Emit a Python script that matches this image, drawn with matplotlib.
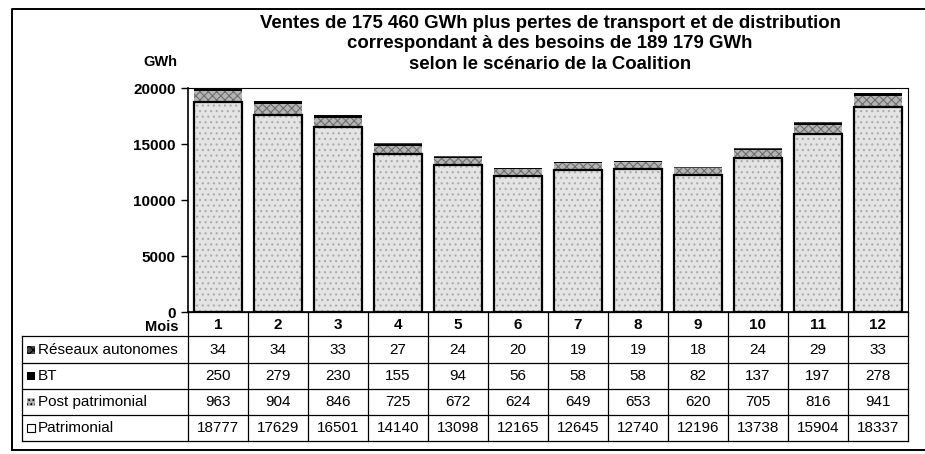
import numpy as np
import matplotlib
matplotlib.use('Agg')
import matplotlib.pyplot as plt
from matplotlib.patches import Rectangle

plt.rcParams['font.family'] = ['Liberation Sans', 'DejaVu Sans']
plt.rcParams['hatch.linewidth'] = 0.8

mois = ['1', '2', '3', '4', '5', '6', '7', '8', '9', '10', '11', '12']
patrimonial = [18777, 17629, 16501, 14140, 13098, 12165, 12645, 12740, 12196, 13738, 15904, 18337]
post_patrimonial = [963, 904, 846, 725, 672, 624, 649, 653, 620, 705, 816, 941]
bt = [250, 279, 230, 155, 94, 56, 58, 58, 82, 137, 197, 278]
reseaux = [34, 34, 33, 27, 24, 20, 19, 19, 18, 24, 29, 33]

titre = ("Ventes de 175 460 GWh plus pertes de transport et de distribution\n"
         "correspondant à des besoins de 189 179 GWh\n"
         "selon le scénario de la Coalition")

W, H = 925, 454
fig = plt.figure(figsize=(W / 100, H / 100), dpi=100)

# pixel layout
x0, x1 = 188, 908
y_top, y_bot = 88, 312

ax = fig.add_axes([x0 / W, 1 - y_bot / H, (x1 - x0) / W, (y_bot - y_top) / H])
x = np.arange(len(mois))
p = np.array(patrimonial)
pp = np.array(post_patrimonial)
b = np.array(bt)
r = np.array(reseaux)

# patrimonial: light stipple + black outline
ax.bar(x, p, width=0.8, color='#e4e4e4', edgecolor='#aaaaaa', linewidth=0, hatch='...', zorder=2)
ax.bar(x, p, width=0.8, color='none', edgecolor='black', linewidth=1.6, zorder=3)
ax.bar(x, pp, bottom=p, width=0.8, color='#b4b4b4', edgecolor='#6e6e6e', linewidth=0,
       hatch='xxxx', zorder=2)
ax.bar(x, b, bottom=p + pp, width=0.8, color='black', edgecolor='none', zorder=2)
ax.bar(x, r, bottom=p + pp + b, width=0.8, color='#444444', edgecolor='none', zorder=2)

ax.set_xlim(-0.5, len(mois) - 0.5)
ax.set_ylim(0, 20000)
ax.set_yticks([0, 5000, 10000, 15000, 20000])
ax.set_xticks([])
ax.tick_params(axis='y', labelsize=11, length=5, width=1, pad=4)
for lab in ax.get_yticklabels():
    lab.set_fontweight('bold')
for s in ['top', 'right']:
    ax.spines[s].set_linewidth(0.8)
    ax.spines[s].set_linestyle((0, (2, 1)))
ax.spines['left'].set_linewidth(1.2)
ax.spines['bottom'].set_linewidth(1.2)

# overlay axes in pixel coords for title, frame and table
ov = fig.add_axes([0, 0, 1, 1])
ov.set_xlim(0, W)
ov.set_ylim(H, 0)
ov.axis('off')
ov.patch.set_alpha(0)

# outer frame
ov.plot([12, 12, 925], [450, 9, 9], color='black', lw=1.4)
ov.plot([12, 925], [450, 450], color='black', lw=1.4)

ov.text(550, 44, titre, ha='center', va='center', fontsize=13.4, fontweight='bold',
        linespacing=1.3)
ov.text(160, 62, 'GWh', ha='center', va='center', fontsize=10.5, fontweight='bold')

# table
col_edges = [x0 + 60 * i for i in range(len(mois) + 1)]
row_edges = [312, 336, 363, 389, 415, 441]
lab_left = 22

for xe in col_edges:
    ov.plot([xe, xe], [row_edges[0], row_edges[-1]], color='black', lw=0.9)
ov.plot([lab_left, lab_left], [row_edges[1], row_edges[-1]], color='black', lw=0.9)
ov.plot([x0, x1], [row_edges[0], row_edges[0]], color='black', lw=0.9)
for ye in row_edges[1:]:
    ov.plot([lab_left, x1], [ye, ye], color='black', lw=0.9)

ov.text(178, 327, 'Mois', ha='right', va='center', fontsize=10.5, fontweight='bold')
for i, m in enumerate(mois):
    ov.text(x0 + 30 + 60 * i, 325, m, ha='center', va='center', fontsize=11, fontweight='bold')

rows = [('Réseaux autonomes', reseaux, '#444444', 'xxxx'),
        ('BT', bt, 'black', None),
        ('Post patrimonial', post_patrimonial, '#b0b0b0', '....'),
        ('Patrimonial', patrimonial, 'white', None)]
for k, (nom, vals, fc, ht) in enumerate(rows):
    yc = (row_edges[k + 1] + row_edges[k + 2]) / 2
    ov.add_patch(Rectangle((27, yc - 4), 8, 8, facecolor=fc, edgecolor='black',
                           lw=0.8 if fc == 'white' else 0, hatch=ht))
    ov.text(38, yc, nom, ha='left', va='center', fontsize=11)
    for i, v in enumerate(vals):
        ov.text(x0 + 30 + 60 * i, yc, str(v), ha='center', va='center', fontsize=11)

fig.savefig('out.png', dpi=100)
